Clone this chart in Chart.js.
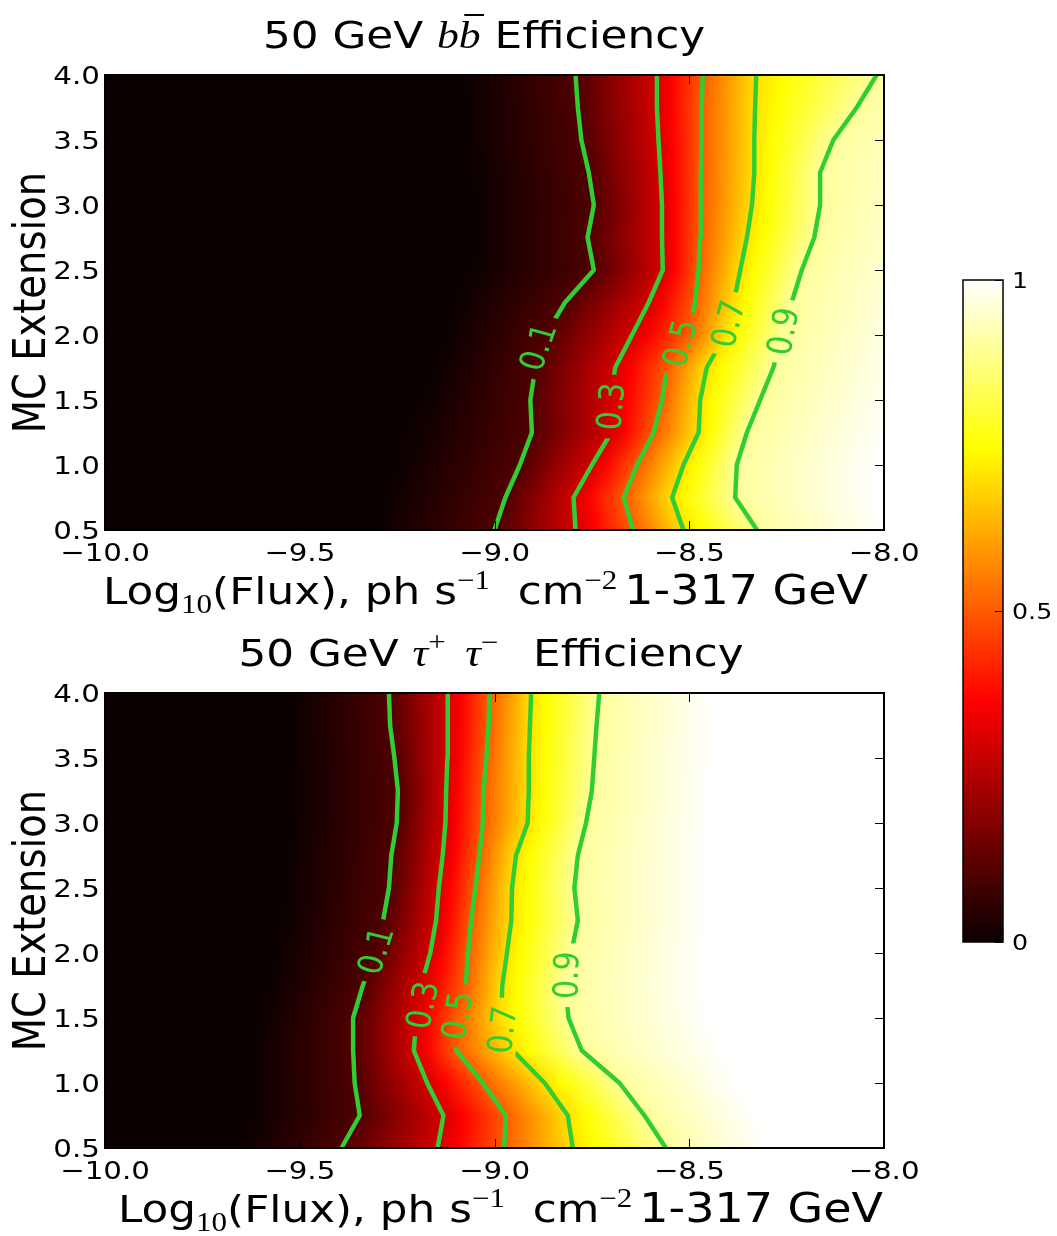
<!DOCTYPE html>
<html><head><meta charset="utf-8">
<script src="https://cdn.jsdelivr.net/npm/chart.js@4.4.0/dist/chart.umd.min.js"></script>
<style>
html,body{margin:0;padding:0;background:#fff;}
#wrap{position:relative;width:1057px;height:1236px;overflow:hidden;}
canvas{position:absolute;}
</style></head><body>
<div id="wrap">
<canvas id="topPanel" width="1057" height="618" style="left:0;top:0;width:1057px;height:618px"></canvas>
<canvas id="botPanel" width="1057" height="618" style="left:0;top:618px;width:1057px;height:618px"></canvas>
<canvas id="cbar" width="127" height="740" style="left:930px;top:240px;width:127px;height:740px"></canvas>
</div>
<script>
// ---------------- data ----------------
const extensionRows = [0.5,0.75,1.0,1.25,1.5,1.75,2.0,2.25,2.5,2.75,3.0,3.25,3.5,3.75,4.0];
const fluxTicks = [-10.0,-9.5,-9.0,-8.5,-8.0];
const extTicks = [0.5,1.0,1.5,2.0,2.5,3.0,3.5,4.0];
const colorbarTicks = [0, 0.5, 1];
const contourLevels = [0.1,0.3,0.5,0.7,0.9];
const fieldLevels = [0,0.1,0.3,0.5,0.7,0.9,1.0];

// 50 GeV b bbar : log10(flux) at which efficiency reaches each level, per extension row
const bbEff00 = [-9.30,-9.28,-9.25,-9.22,-9.18,-9.15,-9.12,-9.10,-9.06,-9.05,-9.05,-9.06,-9.07,-9.07,-9.08];
const bbEff01 = [-9.000,-8.972,-8.935,-8.904,-8.908,-8.895,-8.869,-8.819,-8.745,-8.761,-8.745,-8.758,-8.777,-8.786,-8.792];
const bbEff03 = [-8.792,-8.797,-8.750,-8.700,-8.703,-8.690,-8.647,-8.604,-8.568,-8.570,-8.570,-8.574,-8.579,-8.583,-8.583];
const bbEff05 = [-8.644,-8.668,-8.634,-8.591,-8.570,-8.557,-8.502,-8.485,-8.476,-8.472,-8.470,-8.470,-8.468,-8.468,-8.465];
const bbEff07 = [-8.515,-8.544,-8.515,-8.476,-8.472,-8.455,-8.408,-8.386,-8.369,-8.352,-8.339,-8.333,-8.333,-8.331,-8.328];
const bbEff09 = [-8.326,-8.382,-8.378,-8.352,-8.318,-8.284,-8.262,-8.237,-8.211,-8.179,-8.164,-8.164,-8.130,-8.070,-8.019];
const bbEff10 = [-8.00,-8.02,-8.02,-7.98,-7.95,-7.92,-7.88,-7.85,-7.82,-7.78,-7.75,-7.72,-7.68,-7.62,-7.55];
const bbLabelFlux = [-8.891,-8.704,-8.527,-8.403,-8.262];
const bbLabelExt  = [1.91,1.45,1.94,2.09,2.03];

// 50 GeV tau+ tau-
const ttEff00 = [-9.65,-9.62,-9.62,-9.62,-9.60,-9.58,-9.56,-9.55,-9.54,-9.53,-9.52,-9.52,-9.52,-9.52,-9.52];
const ttEff01 = [-9.393,-9.346,-9.359,-9.363,-9.363,-9.338,-9.308,-9.286,-9.271,-9.265,-9.251,-9.248,-9.257,-9.268,-9.271];
const ttEff03 = [-9.146,-9.131,-9.173,-9.207,-9.201,-9.188,-9.165,-9.150,-9.143,-9.133,-9.126,-9.124,-9.121,-9.120,-9.120];
const ttEff05 = [-8.975,-8.971,-9.030,-9.098,-9.098,-9.074,-9.068,-9.060,-9.049,-9.039,-9.030,-9.028,-9.021,-9.015,-9.013];
const ttEff07 = [-8.799,-8.812,-8.871,-8.953,-8.983,-8.980,-8.968,-8.957,-8.955,-8.945,-8.915,-8.912,-8.912,-8.909,-8.906];
const ttEff09 = [-8.560,-8.615,-8.679,-8.776,-8.810,-8.818,-8.803,-8.786,-8.795,-8.786,-8.765,-8.750,-8.744,-8.738,-8.731];
const ttEff10 = [-8.30,-8.33,-8.38,-8.42,-8.45,-8.46,-8.46,-8.45,-8.45,-8.45,-8.45,-8.45,-8.44,-8.44,-8.44];
const ttLabelFlux = [-9.308,-9.188,-9.098,-8.983,-8.818];
const ttLabelExt  = [2.02,1.60,1.52,1.41,1.83];

// ---------------- style ----------------
const SX = 1.15;
const SANS = '"DejaVu Sans", sans-serif';
const MATH = '"Liberation Serif", "DejaVu Serif", serif';
const GREEN = '#32cd32';
const bbLabelRot = [70,85,75,76,79];
const ttLabelRot = [72,78,80,83,88];
const LABEL_FONT = 30;
const TICK_FONT = '25.5px ' + SANS;

function hotRGB(v){
  v = Math.max(0, Math.min(1, v));
  const k1 = 0.365079, k2 = 0.746032;
  const r = v < k1 ? 0.0416 + (1-0.0416)*v/k1 : 1;
  const g = v < k1 ? 0 : (v < k2 ? (v-k1)/(k2-k1) : 1);
  const b = v < k2 ? 0 : (v-k2)/(1-k2);
  return [Math.round(r*255), Math.round(g*255), Math.round(b*255)];
}

function textRun(ctx, runs, x, y, align){
  let w = 0;
  runs.forEach(r => { ctx.font = r.font; r.w = ctx.measureText(r.t).width; w += r.w + (r.gap||0); });
  ctx.save();
  ctx.translate(x, y);
  ctx.scale(SX, 1);
  let cx = align === 'center' ? -w/2 : (align === 'right' ? -w : 0);
  ctx.textAlign = 'left'; ctx.textBaseline = 'alphabetic';
  ctx.fillStyle = '#000'; ctx.strokeStyle = '#000';
  runs.forEach(r => {
    ctx.font = r.font;
    ctx.fillText(r.t, cx, r.dy||0);
    if (r.bar){ ctx.beginPath(); ctx.lineWidth = 2; ctx.moveTo(cx + r.w*0.25, r.bar); ctx.lineTo(cx + r.w*1.15, r.bar); ctx.stroke(); }
    cx += r.w + (r.gap||0);
  });
  ctx.restore();
}

function fmt(v){ return (v < 0 ? '\u2212' : '') + Math.abs(v).toFixed(1); }

function labelGeom(ctx, chart, fluxArr, extArr, rotArr, i){
  const xs = chart.scales.x, ys = chart.scales.y;
  const cx = xs.getPixelForValue(fluxArr[i]), cy = ys.getPixelForValue(extArr[i]);
  const vis = rotArr[i]*Math.PI/180;
  const th = -Math.atan(SX*Math.tan(vis));
  ctx.font = LABEL_FONT + 'px ' + SANS;
  const tw = ctx.measureText(contourLevels[i].toFixed(1)).width;
  return {cx, cy, th, tw};
}

function panelPlugin(levelArrs, labelFlux, labelExt, labelRot, titleRuns, titleX, xlabelX){
  return {
    id: 'panelDecor',
    beforeDatasetsDraw(chart){
      const {ctx, chartArea: a} = chart;
      const xs = chart.scales.x, ys = chart.scales.y;
      const W = Math.round(a.right - a.left), n = extensionRows.length;
      const off = document.createElement('canvas'); off.width = W; off.height = n;
      const o = off.getContext('2d');
      const img = o.createImageData(W, n);
      for (let k = 0; k < n; k++){
        const r = n - 1 - k;
        const px = levelArrs.map(arr => xs.getPixelForValue(arr[r]) - a.left);
        for (let i = 0; i < W; i++){
          const p = i + 0.5;
          let v;
          if (p <= px[0]) v = 0;
          else if (p >= px[px.length-1]) v = 1;
          else {
            for (let j = 0; j < px.length-1; j++){
              if (p >= px[j] && p <= px[j+1]){
                v = fieldLevels[j] + (fieldLevels[j+1]-fieldLevels[j])*(p-px[j])/(px[j+1]-px[j]);
                break;
              }
            }
          }
          const c = hotRGB(v);
          const idx = (k*W + i)*4;
          img.data[idx] = c[0]; img.data[idx+1] = c[1]; img.data[idx+2] = c[2]; img.data[idx+3] = 255;
        }
      }
      o.putImageData(img, 0, 0);
      const y0 = ys.getPixelForValue(extensionRows[n-1]);
      const y1 = ys.getPixelForValue(extensionRows[0]);
      const d = (y1 - y0)/(n - 1);
      ctx.save();
      ctx.beginPath(); ctx.rect(a.left, a.top, a.right-a.left, a.bottom-a.top); ctx.clip();
      ctx.imageSmoothingEnabled = true;
      ctx.imageSmoothingQuality = 'high';
      ctx.drawImage(off, 0, 0, W, n, a.left, y0 - d/2, W, d*n);
      ctx.restore();
      // clip out label gaps
      ctx.save();
      ctx.beginPath();
      ctx.rect(a.left-10, a.top-10, a.right-a.left+20, a.bottom-a.top+20);
      for (let i = 0; i < contourLevels.length; i++){
        const g = labelGeom(ctx, chart, labelFlux, labelExt, labelRot, i);
        const L = g.tw/2 + 8, T = 15;
        const pts = [[-L,-T],[L,-T],[L,T],[-L,T]].map(([u,w]) => {
          const rx = u*Math.cos(g.th) - w*Math.sin(g.th);
          const ry = u*Math.sin(g.th) + w*Math.cos(g.th);
          return [g.cx + SX*rx, g.cy + ry];
        });
        ctx.moveTo(pts[0][0], pts[0][1]);
        for (let q = 1; q < 4; q++) ctx.lineTo(pts[q][0], pts[q][1]);
        ctx.closePath();
      }
      ctx.clip('evenodd');
    },
    afterDatasetsDraw(chart){
      const ctx = chart.ctx;
      ctx.restore();
      for (let i = 0; i < contourLevels.length; i++){
        const g = labelGeom(ctx, chart, labelFlux, labelExt, labelRot, i);
        ctx.save();
        ctx.translate(g.cx, g.cy);
        ctx.scale(SX, 1);
        ctx.rotate(g.th);
        ctx.font = LABEL_FONT + 'px ' + SANS;
        ctx.fillStyle = GREEN;
        ctx.textAlign = 'center'; ctx.textBaseline = 'alphabetic';
        ctx.fillText(contourLevels[i].toFixed(1), 0, LABEL_FONT*0.729/2);
        ctx.restore();
      }
    },
    afterDraw(chart){
      const {ctx, chartArea: a} = chart;
      const xs = chart.scales.x, ys = chart.scales.y;
      ctx.save();
      // ticks (inward, all sides)
      ctx.strokeStyle = '#000'; ctx.lineWidth = 1;
      const TL = 9;
      ctx.beginPath();
      fluxTicks.forEach(t => {
        const x = Math.round(xs.getPixelForValue(t)) + 0.5;
        ctx.moveTo(x, a.bottom); ctx.lineTo(x, a.bottom - TL);
        ctx.moveTo(x, a.top); ctx.lineTo(x, a.top + TL);
      });
      extTicks.forEach(t => {
        const y = Math.round(ys.getPixelForValue(t)) + 0.5;
        ctx.moveTo(a.left, y); ctx.lineTo(a.left + TL, y);
        ctx.moveTo(a.right, y); ctx.lineTo(a.right - TL, y);
      });
      ctx.stroke();
      // frame
      ctx.lineWidth = 2;
      ctx.strokeRect(a.left, a.top, a.right - a.left, a.bottom - a.top);
      // tick labels
      fluxTicks.forEach(t => {
        textRun(ctx, [{t: fmt(t), font: TICK_FONT}], xs.getPixelForValue(t), a.bottom + 31, 'center');
      });
      extTicks.forEach(t => {
        textRun(ctx, [{t: t.toFixed(1), font: TICK_FONT}], a.left - 5, ys.getPixelForValue(t) + 9, 'right');
      });
      // y axis title
      ctx.save();
      ctx.translate(45, (a.top + a.bottom)/2);
      ctx.scale(SX, 1);
      ctx.rotate(-Math.PI/2);
      ctx.font = '38.5px ' + SANS; ctx.fillStyle = '#000';
      ctx.textAlign = 'center'; ctx.textBaseline = 'alphabetic';
      ctx.fillText('MC Extension', 0, 0);
      ctx.restore();
      // title
      textRun(ctx, titleRuns, titleX, 48, 'center');
      // x axis title
      const F1 = '38px ' + SANS, FS = '27px ' + MATH;
      textRun(ctx, [
        {t: 'Log', font: F1},
        {t: '10', font: FS, dy: 9},
        {t: '(Flux), ph s', font: F1},
        {t: '\u22121', font: FS, dy: -15},
        {t: '  cm', font: F1},
        {t: '\u22122', font: FS, dy: -15, gap: 6},
        {t: '1-317 GeV', font: '40px ' + SANS}
      ], xlabelX, 604, 'left');
      ctx.restore();
    }
  };
}

function panelConfig(levelArrs, labelFlux, labelExt, labelRot, titleRuns, titleX, xlabelX){
  const datasets = contourLevels.map((lv, i) => ({
    label: 'efficiency ' + lv.toFixed(1),
    data: extensionRows.map((e, r) => ({x: levelArrs[i+1][r], y: e})),
    showLine: true, borderColor: GREEN, backgroundColor: GREEN, borderWidth: 4.5,
    pointRadius: 0, tension: 0, fill: false, clip: 0,
    borderJoinStyle: 'round', borderCapStyle: 'butt'
  }));
  return {
    type: 'scatter',
    data: {datasets},
    options: {
      responsive: false, animation: false, events: [],
      layout: {padding: {left: 105, right: 173, top: 75, bottom: 88}},
      plugins: {legend: {display: false}, tooltip: {enabled: false}, title: {display: false}},
      scales: {
        x: {type: 'linear', min: -10, max: -8, display: false},
        y: {type: 'linear', min: 0.5, max: 4, display: false}
      }
    },
    plugins: [panelPlugin(levelArrs, labelFlux, labelExt, labelRot, titleRuns, titleX, xlabelX)]
  };
}

const TF = 38;
const bbTitle = [
  {t: '50 GeV ', font: TF + 'px ' + SANS},
  {t: 'b', font: 'italic ' + TF + 'px ' + MATH},
  {t: 'b', font: 'italic ' + TF + 'px ' + MATH, bar: -33},
  {t: ' Efficiency', font: TF + 'px ' + SANS}
];
const ttTitle = [
  {t: '50 GeV ', font: TF + 'px ' + SANS},
  {t: '\u03c4', font: 'italic ' + TF + 'px ' + MATH},
  {t: '+', font: '27px ' + MATH, dy: -15, gap: 17},
  {t: '\u03c4', font: 'italic ' + TF + 'px ' + MATH},
  {t: '\u2212', font: '27px ' + MATH, dy: -15, gap: 6},
  {t: '  Efficiency', font: TF + 'px ' + SANS}
];

new Chart(document.getElementById('topPanel'),
  panelConfig([bbEff00,bbEff01,bbEff03,bbEff05,bbEff07,bbEff09,bbEff10], bbLabelFlux, bbLabelExt, bbLabelRot, bbTitle, 484, 103));
new Chart(document.getElementById('botPanel'),
  panelConfig([ttEff00,ttEff01,ttEff03,ttEff05,ttEff07,ttEff09,ttEff10], ttLabelFlux, ttLabelExt, ttLabelRot, ttTitle, 491, 118));

// colorbar
new Chart(document.getElementById('cbar'), {
  type: 'scatter',
  data: {datasets: []},
  options: {
    responsive: false, animation: false, events: [],
    layout: {padding: {left: 33, right: 54, top: 40, bottom: 38}},
    plugins: {legend: {display: false}, tooltip: {enabled: false}},
    scales: {
      x: {type: 'linear', min: 0, max: 1, display: false},
      y: {type: 'linear', min: 0, max: 1, display: false}
    }
  },
  plugins: [{
    id: 'cbarDraw',
    beforeDatasetsDraw(chart){
      const {ctx, chartArea: a} = chart;
      const ys = chart.scales.y;
      const g = ctx.createLinearGradient(0, ys.getPixelForValue(0), 0, ys.getPixelForValue(1));
      [0, 0.365079, 0.746032, 1].forEach(s => { const c = hotRGB(s); g.addColorStop(s, `rgb(${c[0]},${c[1]},${c[2]})`); });
      ctx.save();
      ctx.fillStyle = g;
      ctx.fillRect(a.left, a.top, a.right - a.left, a.bottom - a.top);
      ctx.strokeStyle = '#000'; ctx.lineWidth = 1;
      ctx.beginPath();
      colorbarTicks.forEach(t => {
        const y = Math.round(ys.getPixelForValue(t)) + 0.5;
        ctx.moveTo(a.right, y); ctx.lineTo(a.right - 8, y);
      });
      ctx.stroke();
      ctx.lineWidth = 1.5;
      ctx.strokeRect(a.left, a.top, a.right - a.left, a.bottom - a.top);
      colorbarTicks.forEach(t => {
        textRun(ctx, [{t: String(t), font: '22px ' + SANS}], a.right + 9, ys.getPixelForValue(t) + 8, 'left');
      });
      ctx.restore();
    }
  }]
});
</script>
</body></html>
